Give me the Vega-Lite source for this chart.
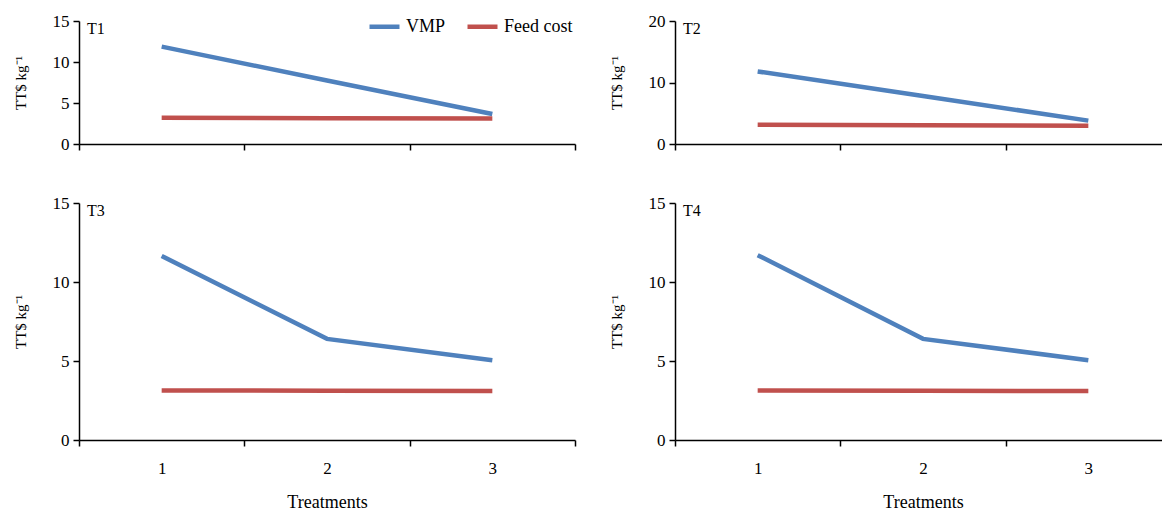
{
  "$schema": "https://vega.github.io/schema/vega-lite/v6.json",
  "padding": {"top": 9, "left": 13, "right": 0, "bottom": 0},
  "background": "white",
  "datasets": {
    "d": [
      {"panel": "T1", "treatment": "1", "series": "VMP", "value": 11.87},
      {"panel": "T1", "treatment": "2", "series": "VMP", "value": 7.75},
      {"panel": "T1", "treatment": "3", "series": "VMP", "value": 3.65},
      {"panel": "T1", "treatment": "1", "series": "Feed cost", "value": 3.2},
      {"panel": "T1", "treatment": "2", "series": "Feed cost", "value": 3.15},
      {"panel": "T1", "treatment": "3", "series": "Feed cost", "value": 3.12},
      {"panel": "T2", "treatment": "1", "series": "VMP", "value": 11.8},
      {"panel": "T2", "treatment": "2", "series": "VMP", "value": 7.8},
      {"panel": "T2", "treatment": "3", "series": "VMP", "value": 3.8},
      {"panel": "T2", "treatment": "1", "series": "Feed cost", "value": 3.15},
      {"panel": "T2", "treatment": "2", "series": "Feed cost", "value": 3.05},
      {"panel": "T2", "treatment": "3", "series": "Feed cost", "value": 2.95},
      {"panel": "T3", "treatment": "1", "series": "VMP", "value": 11.65},
      {"panel": "T3", "treatment": "2", "series": "VMP", "value": 6.4},
      {"panel": "T3", "treatment": "3", "series": "VMP", "value": 5.05},
      {"panel": "T3", "treatment": "1", "series": "Feed cost", "value": 3.14},
      {"panel": "T3", "treatment": "2", "series": "Feed cost", "value": 3.12},
      {"panel": "T3", "treatment": "3", "series": "Feed cost", "value": 3.1},
      {"panel": "T4", "treatment": "1", "series": "VMP", "value": 11.7},
      {"panel": "T4", "treatment": "2", "series": "VMP", "value": 6.4},
      {"panel": "T4", "treatment": "3", "series": "VMP", "value": 5.05},
      {"panel": "T4", "treatment": "1", "series": "Feed cost", "value": 3.14},
      {"panel": "T4", "treatment": "2", "series": "Feed cost", "value": 3.12},
      {"panel": "T4", "treatment": "3", "series": "Feed cost", "value": 3.1}
    ]
  },
  "data": {"name": "d"},
  "spacing": 42,
  "vconcat": [
    {
      "spacing": 33,
      "hconcat": [
        {
          "width": 496, "height": 123,
          "title": {"text": "T1", "anchor": "start", "frame": "group", "dx": 8, "dy": 29},
          "transform": [{"filter": "datum.panel === 'T1'"}],
          "mark": {"type": "line", "strokeWidth": 4.5},
          "encoding": {
            "x": {"field": "treatment", "type": "ordinal", "bandPosition": 0.5,
                  "scale": {"type": "band", "paddingInner": 0, "paddingOuter": 0},
                  "axis": {"labels": false, "title": null}},
            "y": {"field": "value", "type": "quantitative", "scale": {"domain": [0, 15]},
                  "axis": {"values": [0, 5, 10, 15], "title": "TT$ kg⁻¹"}},
            "color": {"field": "series", "type": "nominal",
                      "scale": {"domain": ["VMP", "Feed cost"], "range": ["#4F81BD", "#C0504D"]},
                      "legend": {"title": null, "orient": "none", "legendX": 288, "legendY": -12, "direction": "horizontal",
                                 "symbolType": "stroke", "symbolSize": 900, "symbolStrokeWidth": 4.5,
                                 "labelFont": "Liberation Serif, Times New Roman, serif", "labelFontSize": 18, "labelColor": "#000",
                                 "labelOffset": 4, "columnPadding": 12}}
          }
        },
        {
          "width": 496, "height": 123,
          "title": {"text": "T2", "anchor": "start", "frame": "group", "dx": 8, "dy": 29},
          "transform": [{"filter": "datum.panel === 'T2'"}],
          "mark": {"type": "line", "strokeWidth": 4.5},
          "encoding": {
            "x": {"field": "treatment", "type": "ordinal", "bandPosition": 0.5,
                  "scale": {"type": "band", "paddingInner": 0, "paddingOuter": 0},
                  "axis": {"labels": false, "title": null}},
            "y": {"field": "value", "type": "quantitative", "scale": {"domain": [0, 20]},
                  "axis": {"values": [0, 10, 20], "title": "TT$ kg⁻¹"}},
            "color": {"field": "series", "type": "nominal"}
          }
        }
      ]
    },
    {
      "spacing": 33,
      "hconcat": [
        {
          "width": 496, "height": 237,
          "title": {"text": "T3", "anchor": "start", "frame": "group", "dx": 8, "dy": 29},
          "transform": [{"filter": "datum.panel === 'T3'"}],
          "mark": {"type": "line", "strokeWidth": 4.5},
          "encoding": {
            "x": {"field": "treatment", "type": "ordinal", "bandPosition": 0.5,
                  "scale": {"type": "band", "paddingInner": 0, "paddingOuter": 0},
                  "axis": {"labelAngle": 0, "title": "Treatments", "labelPadding": 14, "titlePadding": 17}},
            "y": {"field": "value", "type": "quantitative", "scale": {"domain": [0, 15]},
                  "axis": {"values": [0, 5, 10, 15], "title": "TT$ kg⁻¹"}},
            "color": {"field": "series", "type": "nominal"}
          }
        },
        {
          "width": 496, "height": 237,
          "title": {"text": "T4", "anchor": "start", "frame": "group", "dx": 8, "dy": 29},
          "transform": [{"filter": "datum.panel === 'T4'"}],
          "mark": {"type": "line", "strokeWidth": 4.5},
          "encoding": {
            "x": {"field": "treatment", "type": "ordinal", "bandPosition": 0.5,
                  "scale": {"type": "band", "paddingInner": 0, "paddingOuter": 0},
                  "axis": {"labelAngle": 0, "title": "Treatments", "labelPadding": 14, "titlePadding": 17}},
            "y": {"field": "value", "type": "quantitative", "scale": {"domain": [0, 15]},
                  "axis": {"values": [0, 5, 10, 15], "title": "TT$ kg⁻¹"}},
            "color": {"field": "series", "type": "nominal"}
          }
        }
      ]
    }
  ],
  "config": {
    "view": {"stroke": null},
    "font": "Liberation Serif, Times New Roman, serif",
    "title": {"font": "Liberation Serif, Times New Roman, serif", "fontSize": 16, "fontWeight": "normal", "color": "#000", "offset": 0},
    "axis": {
      "grid": false, "domainColor": "#000", "domainWidth": 1.5, "tickColor": "#000", "tickWidth": 1.5, "tickSize": 6,
      "labelFont": "Liberation Serif, Times New Roman, serif", "labelFontSize": 17, "labelColor": "#000",
      "titleFont": "Liberation Serif, Times New Roman, serif", "titleFontSize": 15, "titleFontWeight": "normal", "titleColor": "#000"
    },
    "axisX": {"tickBand": "extent", "titleFontSize": 18},
    "axisY": {"titlePadding": 24, "labelPadding": 4}
  }
}
